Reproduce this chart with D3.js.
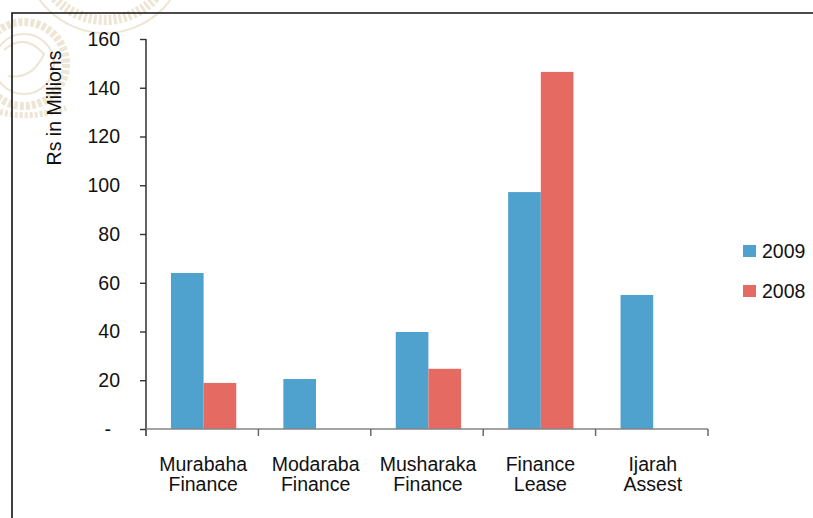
<!DOCTYPE html>
<html>
<head>
<meta charset="utf-8">
<script src="https://cdn.jsdelivr.net/npm/d3@7/dist/d3.min.js"></script>
<style>
  html, body { margin: 0; padding: 0; background: #fff; }
  svg { display: block; font-family: "Liberation Sans", Arial, sans-serif; }
</style>
</head>
<body>
<svg id="chart" width="813" height="518"></svg>
<script>
// Financing portfolio by product, Rs in millions
const categories = [["Murabaha", "Finance"], ["Modaraba", "Finance"], ["Musharaka", "Finance"], ["Finance", "Lease"], ["Ijarah", "Assest"]];
const seriesNames = ["2009", "2008"];
const values2009 = [64.0, 20.5, 39.8, 97.2, 55.0];
const values2008 = [18.9, 0, 24.7, 146.5, 0];
const yTicks = [0, 20, 40, 60, 80, 100, 120, 140, 160];
const colors = ["#4fa1ce", "#e56b62"];

const FONT = 19.5;
const svg = d3.select("#chart");
const W = 813, H = 518;
const plot = { left: 146, right: 708, top: 39, bottom: 429 };

// faint seal in the top-left corner
const seal = svg.append("g").attr("fill", "none").attr("stroke", "#ebe0ca").attr("opacity", 0.8);
seal.append("circle").attr("cx", 105).attr("cy", -48).attr("r", 68)
  .attr("stroke-width", 10).attr("stroke-dasharray", "3 2");
seal.append("circle").attr("cx", 105).attr("cy", -48).attr("r", 81).attr("stroke-width", 2);
seal.append("circle").attr("cx", 24).attr("cy", 64).attr("r", 42)
  .attr("stroke-width", 8).attr("stroke-dasharray", "4 2");
seal.append("circle").attr("cx", 24).attr("cy", 64).attr("r", 30).attr("stroke-width", 2);
seal.append("path").attr("d", "M4,50 Q24,32 44,54 Q32,80 8,76").attr("stroke-width", 2);
seal.append("path").attr("d", "M0,112 Q30,120 66,108").attr("stroke-width", 6).attr("stroke-dasharray", "3 2");

// frame
svg.append("path")
  .attr("d", `M12,${H} L12,13 L${W},13`)
  .attr("fill", "none").attr("stroke", "#111").attr("stroke-width", 1.6);

const x0 = d3.scaleBand().domain(d3.range(categories.length)).range([plot.left, plot.right]).padding(0);
const bw = x0.bandwidth();
const x1 = d3.scaleBand().domain(seriesNames).range([bw * 0.222, bw * 0.803]).padding(0);
const y = d3.scaleLinear().domain([0, 160]).range([plot.bottom, plot.top]);

// bars
const data = categories.map((c, i) => [values2009[i], values2008[i]]);
const groups = svg.append("g").selectAll("g").data(data).join("g")
  .attr("transform", (d, i) => `translate(${x0(i)},0)`);
groups.selectAll("rect")
  .data(d => d.map((v, j) => ({ key: seriesNames[j], v, j })))
  .join("rect")
  .attr("x", d => x1(d.key))
  .attr("width", x1.bandwidth())
  .attr("y", d => y(d.v))
  .attr("height", d => y(0) - y(d.v))
  .attr("fill", d => colors[d.j]);

// y axis
const yAxis = d3.axisLeft(y).tickValues(yTicks).tickSize(6).tickPadding(20)
  .tickFormat(d => d === 0 ? "-" : d3.format("d")(d));
const gy = svg.append("g").attr("transform", `translate(${plot.left},0)`).call(yAxis);
gy.attr("font-size", FONT).attr("font-family", "Liberation Sans, Arial, sans-serif");
gy.select(".domain").attr("d", `M0,${plot.top}V${plot.bottom + 7}`).attr("stroke", "#222").attr("stroke-width", 1.4);
gy.selectAll(".tick line").attr("stroke", "#333").attr("stroke-width", 1.4);
gy.selectAll(".tick text").attr("fill", "#111").attr("text-anchor", "end");
gy.selectAll(".tick text").filter(d => d === 0).attr("x", -35);

// x axis
const xEdges = d3.range(categories.length + 1).map(i => plot.left + i * bw);
const gx = svg.append("g");
gx.append("line").attr("x1", plot.left).attr("x2", plot.right)
  .attr("y1", y(0)).attr("y2", y(0)).attr("stroke", "#858585").attr("stroke-width", 1.5);
gx.selectAll("line.tk").data(xEdges.slice(1)).join("line").attr("class", "tk")
  .attr("x1", d => d).attr("x2", d => d).attr("y1", y(0)).attr("y2", y(0) + 7)
  .attr("stroke", "#6a6a6a").attr("stroke-width", 1.5);
const labels = gx.selectAll("text").data(categories).join("text")
  .attr("x", (d, i) => x0(i) + bw / 2 + 1)
  .attr("y", 471)
  .attr("text-anchor", "middle").attr("font-size", FONT).attr("fill", "#111");
labels.selectAll("tspan").data(d => d).join("tspan")
  .attr("x", function () { return this.parentNode.getAttribute("x"); })
  .attr("dy", (d, k) => k === 0 ? 0 : 20)
  .text(d => d);

// y axis title
svg.append("text")
  .attr("transform", "translate(61,108) rotate(-90)")
  .attr("text-anchor", "middle").attr("font-size", FONT).attr("fill", "#111")
  .text("Rs in Millions");

// legend
const legend = svg.append("g").selectAll("g").data(seriesNames).join("g")
  .attr("transform", (d, i) => `translate(743,${245 + i * 40})`);
legend.append("rect").attr("width", 13).attr("height", 12).attr("fill", (d, i) => colors[i]);
legend.append("text").attr("x", 19).attr("y", 12.5).attr("font-size", FONT).attr("fill", "#111").text(d => d);
</script>
</body>
</html>
